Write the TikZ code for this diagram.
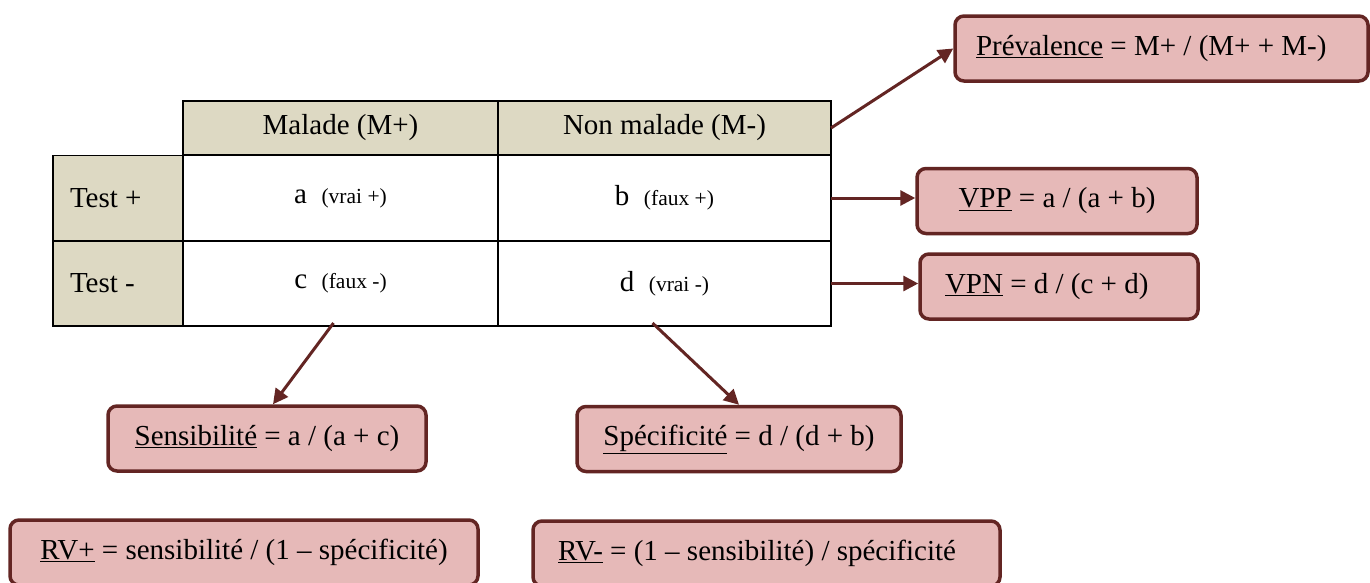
\documentclass[tikz,border=0pt]{standalone}
\usepackage{fontspec}
\setmainfont{Liberation Serif}
\usetikzlibrary{arrows.meta}
\definecolor{boxfill}{HTML}{E6B9B8}
\definecolor{boxline}{HTML}{632523}
\definecolor{headfill}{HTML}{DDD9C3}
\newcommand{\bigtxt}{\fontsize{29}{33}\selectfont}
\newcommand{\smalltxt}{\fontsize{21.5}{25}\selectfont}
\tikzset{
  cell/.style={draw=black, line width=1.5pt, inner sep=0pt, outer sep=0pt, font=\bigtxt},
  headcell/.style={cell, fill=headfill},
  rowcell/.style={cell, fill=headfill, minimum height=85pt, minimum width=130pt},
  bodycell/.style={cell, fill=white, minimum height=85pt},
  formula/.style={draw=boxline, fill=boxfill, line width=3.5pt, rounded corners=9pt, minimum height=65pt, inner sep=0pt, font=\bigtxt},
  conn/.style={draw=boxline, line width=3pt, -{Triangle[length=15pt,width=15pt]}}
}
\begin{document}
\begin{tikzpicture}[x=1pt,y=-1pt]
\clip (0,0) rectangle (1370,582);
\fill[white] (0,0) rectangle (1370,582);
% table
\node[headcell, minimum width=315pt, minimum height=54pt] (hM) at (340.5,128) {Malade (M+)};
\node[headcell, minimum width=333pt, minimum height=54pt] (hN) at (664.5,128) {Non malade (M-)};
\node[rowcell] (tp) at (118,198) {\makebox[96pt][l]{Test +}};
\node[rowcell] (tm) at (118,283.5) {\makebox[96pt][l]{Test -}};
\node[bodycell, minimum width=315pt] (a) at (340.5,198) {a\hspace{0.5em}{\smalltxt(vrai +)}};
\node[bodycell, minimum width=333pt] (b) at (664.5,198) {b\hspace{0.5em}{\smalltxt(faux +)}};
\node[bodycell, minimum width=315pt] (c) at (340.5,283.5) {c\hspace{0.5em}{\smalltxt(faux -)}};
\node[bodycell, minimum width=333pt] (d) at (664.5,283.5) {d\hspace{0.5em}{\smalltxt(vrai -)}};
% formula boxes
\node[formula, minimum width=413pt] (prev) at (1161.5,48.5) {\makebox[371pt][l]{\underline{Prévalence} = M+ / (M+ + M-)}};
\node[formula, minimum width=280pt] (vpp) at (1057,201) {\underline{VPP} = a / (a + b)};
\node[formula, minimum width=278pt] (vpn) at (1059,286.5) {\makebox[228pt][l]{\underline{VPN} = d / (c + d)}};
\node[formula, minimum width=318pt] (sens) at (267,438.5) {\underline{Sensibilité} = a / (a + c)};
\node[formula, minimum width=324pt] (spec) at (739,439) {\underline{Spécificité} = d / (d + b)};
\node[formula, minimum width=468pt] (rvp) at (244,552.5) {\underline{RV+} = sensibilité / (1 – spécificité)};
\node[formula, minimum width=467pt] (rvm) at (766.5,553.5) {\makebox[417pt][l]{\underline{RV-} = (1 – sensibilité) / spécificité}};
% connectors
\draw[conn] (hN.east) -- (prev.west);
\draw[conn] (b.east) -- (b.east -| vpp.west);
\draw[conn] (d.east) -- (d.east -| vpn.west);
\draw[conn] ([xshift=-7pt,yshift=3pt]c.south) -- ([xshift=6pt]sens.north);
\draw[conn] ([xshift=-12pt,yshift=3pt]d.south) -- (spec.north);
\end{tikzpicture}
\end{document}
